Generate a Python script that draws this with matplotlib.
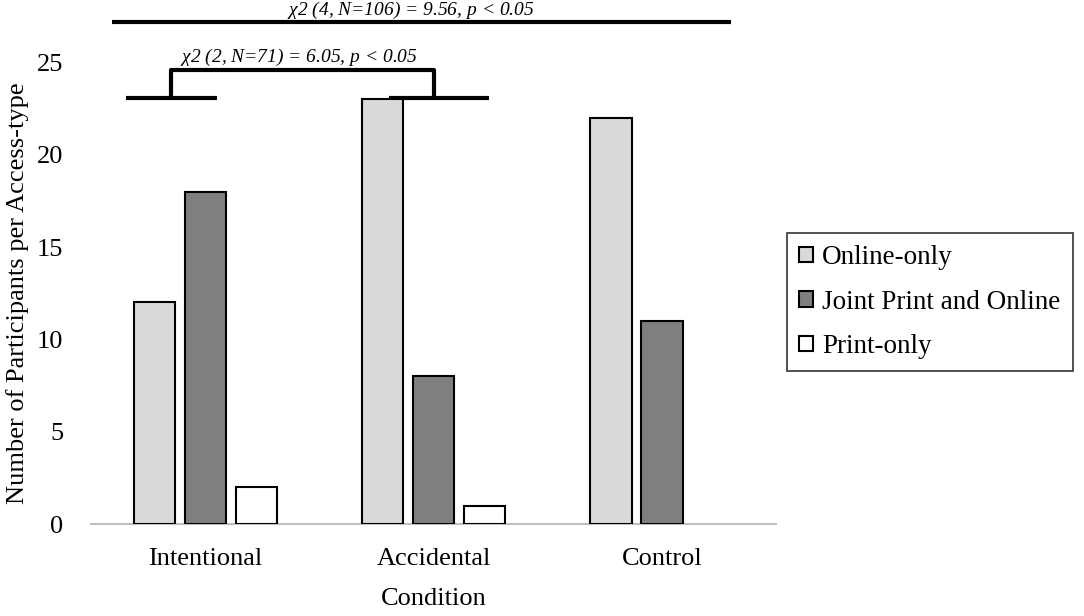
import matplotlib
matplotlib.use('Agg')
import matplotlib.pyplot as plt
import numpy as np

# data
conditions = ['Intentional', 'Accidental', 'Control']
series_names = ['Online-only', 'Joint Print and Online', 'Print-only']
online_only = [12, 23, 22]
joint_print_online = [18, 8, 11]
print_only = [2, 1, 0]
yticks = [0, 5, 10, 15, 20, 25]
chi_all = r'$\chi$2 (4, N=106) = 9.56, $p$ < 0.05'
chi_pair = r'$\chi$2 (2, N=71) = 6.05, $p$ < 0.05'

plt.rcParams['font.family'] = ['Liberation Serif', 'DejaVu Serif']
plt.rcParams['mathtext.fontset'] = 'custom'
plt.rcParams['mathtext.it'] = 'Liberation Serif:italic'
plt.rcParams['mathtext.rm'] = 'Liberation Serif'

fig = plt.figure(figsize=(10.84, 6.16), dpi=100)
ax = fig.add_axes([0.084, 0.149, 0.632, 0.75])

x = np.arange(len(conditions))
width = 0.18
step = 0.223
colors = ['#d9d9d9', '#7f7f7f', '#ffffff']
for i, (vals, name, c) in enumerate(zip([online_only, joint_print_online, print_only], series_names, colors)):
    bars = ax.bar(x + (i - 1) * step, vals, width, color=c, edgecolor='black', linewidth=1.5, label=name, zorder=3)
    for b in bars:
        if b.get_height() == 0:
            b.set_visible(False)  # excel draws nothing for a zero bar

ax.set_xlim(-0.5, 2.5)
ax.set_ylim(0, 25)
ax.set_yticks(yticks)
ax.set_xticks(x)
ax.set_xticklabels(conditions, fontsize=19)
ax.tick_params(axis='y', labelsize=19, length=0, pad=20)
ax.tick_params(axis='x', length=0, pad=17)
for s in ['top', 'right', 'left']:
    ax.spines[s].set_visible(False)
ax.spines['bottom'].set_color('#bfbfbf')
ax.spines['bottom'].set_linewidth(1.5)
ax.set_xlabel('Condition', fontsize=19, labelpad=13)
ax.set_ylabel('Number of Participants per Access-type', fontsize=19, labelpad=6)

# significance brackets
lk = dict(color='black', lw=3, clip_on=False, solid_capstyle='butt')
ax.plot([-0.347, 0.052], [23.04, 23.04], **lk)
ax.plot([0.805, 1.243], [23.04, 23.04], **lk)
ax.plot([-0.150, -0.150, 1.002, 1.002], [23.04, 24.6, 24.6, 23.04], **lk)
ax.text(0.41, 24.7, chi_pair, fontsize=14, ha='center', va='bottom', style='italic')
ax.plot([-0.408, 2.303], [27.16, 27.16], **lk)
ax.text(0.9, 27.25, chi_all, fontsize=14, ha='center', va='bottom', style='italic')

leg = ax.legend(loc='upper left', bbox_to_anchor=(0.726, 0.622), bbox_transform=fig.transFigure,
                borderaxespad=0, fontsize=19.5, frameon=True, fancybox=False, edgecolor='black',
                handlelength=0.5, handleheight=0.5, handletextpad=0.35, labelspacing=0.72,
                borderpad=0.45)
leg.get_frame().set_linewidth(1.2)

fig.savefig('out.png', dpi=100)
